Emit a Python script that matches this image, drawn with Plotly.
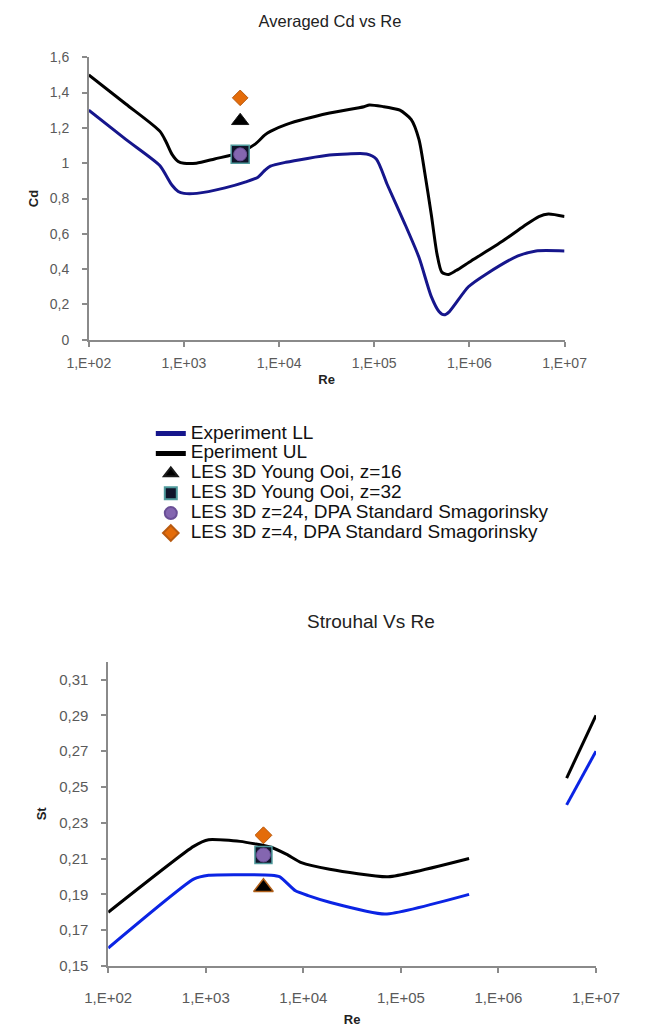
import plotly.graph_objects as go

# ---------------- Drag coefficient vs Reynolds number ----------------
re_ul = [100, 245, 560, 650, 750, 870, 1000, 1350, 2100, 3900, 5600, 7100,
         8100, 12000, 34000, 78000, 89000, 126000, 158000, 186000, 245000,
         295000, 339000, 398000, 457000, 513000, 603000, 724000, 1050000,
         2240000, 3720000, 5370000, 6760000, 10000000]
cd_ul = [1.50, 1.335, 1.18, 1.12, 1.05, 1.01, 1.00, 1.00, 1.024, 1.06, 1.108, 1.16,
         1.18, 1.22, 1.284, 1.32, 1.33, 1.32, 1.31, 1.30, 1.247,
         1.135, 0.949, 0.708, 0.485, 0.383, 0.37, 0.392, 0.448,
         0.559, 0.643, 0.698, 0.712, 0.698]

re_ll = [100, 245, 557, 650, 750, 870, 1000, 1365, 2700, 4470, 6000, 7100,
         8100, 11750, 33900, 52500, 83000, 105000, 138000, 204000, 295000,
         398000, 479000, 543000, 617000, 977000, 1510000, 3240000, 5010000,
         10000000]
cd_ll = [1.30, 1.135, 0.987, 0.93, 0.875, 0.84, 0.829, 0.829, 0.86, 0.894, 0.921, 0.96,
         0.983, 1.005, 1.046, 1.052, 1.052, 1.024, 0.875, 0.671, 0.467,
         0.244, 0.16, 0.141, 0.16, 0.30, 0.373, 0.475, 0.503,
         0.503]

# LES results at Re = 3900
re_les = [3900]
cd_les_yo16 = [1.24]
cd_les_yo32 = [1.05]
cd_les_dpa24 = [1.05]
cd_les_dpa4 = [1.37]

# ---------------- Strouhal number vs Reynolds number ----------------
re_st = [100, 750, 1070, 2240, 4680, 6760, 9550, 18600, 74000, 500000,
         None, 5000000, 10000000]
st_ul = [0.180, 0.2168, 0.2205, 0.2196, 0.2163, 0.2123, 0.2077, 0.204, 0.1998, 0.210,
         None, 0.255, 0.290]
re_st_ll = [100, 750, 1070, 4680, 5750, 8300, 11200, 18600, 69000, 500000,
            None, 5000000, 10000000]
st_ll = [0.160, 0.1985, 0.2007, 0.2007, 0.1998, 0.192, 0.1893, 0.1856, 0.179, 0.190,
         None, 0.240, 0.270]

st_les_yo16 = [0.194]
st_les_yo32 = [0.212]
st_les_dpa24 = [0.212]
st_les_dpa4 = [0.223]

series_names = ["Experiment LL", "Eperiment UL", "LES 3D Young Ooi, z=16",
                "LES 3D Young Ooi, z=32", "LES 3D z=24, DPA Standard Smagorinsky",
                "LES 3D z=4, DPA Standard Smagorinsky"]

x_tickvals = [1e2, 1e3, 1e4, 1e5, 1e6, 1e7]
x_ticktext = ["1,E+02", "1,E+03", "1,E+04", "1,E+05", "1,E+06", "1,E+07"]
cd_tickvals = [0, 0.2, 0.4, 0.6, 0.8, 1.0, 1.2, 1.4, 1.6]
cd_ticktext = ["0", "0,2", "0,4", "0,6", "0,8", "1", "1,2", "1,4", "1,6"]
st_tickvals = [0.15, 0.17, 0.19, 0.21, 0.23, 0.25, 0.27, 0.29, 0.31]
st_ticktext = ["0,15", "0,17", "0,19", "0,21", "0,23", "0,25", "0,27", "0,29", "0,31"]

FONT = "Liberation Sans, Arial, sans-serif"
NAVY = "#16168c"
BLUE = "#0b24e4"
PURPLE = "#8466b0"
ORANGE = "#e46c0a"


def legend_label(text):
    # large legend text on a compact row pitch
    return '<span style="font-size:19px">' + text + "</span>"


fig = go.Figure()

# --- top chart: Cd ---
fig.add_trace(go.Scatter(x=re_ll, y=cd_ll, name=legend_label(series_names[0]), mode="lines",
                         line=dict(color=NAVY, width=3, shape="spline", smoothing=0.7),
                         legendgroup="ll", xaxis="x", yaxis="y"))
fig.add_trace(go.Scatter(x=re_ul, y=cd_ul, name=legend_label(series_names[1]), mode="lines",
                         line=dict(color="#000000", width=3, shape="spline", smoothing=0.7),
                         legendgroup="ul", xaxis="x", yaxis="y"))
fig.add_trace(go.Scatter(x=re_les, y=cd_les_yo16, name=legend_label(series_names[2]),
                         mode="markers",
                         marker=dict(symbol="triangle-up", size=15, color="#000000",
                                     line=dict(color="#1a1a1a", width=1)),
                         legendgroup="yo16", xaxis="x", yaxis="y"))
fig.add_trace(go.Scatter(x=re_les, y=cd_les_yo32, name=legend_label(series_names[3]),
                         mode="markers",
                         marker=dict(symbol="square", size=18, color="#10142a",
                                     line=dict(color="#4f9a9c", width=1.5)),
                         legendgroup="yo32", xaxis="x", yaxis="y"))
fig.add_trace(go.Scatter(x=re_les, y=cd_les_dpa24, name=legend_label(series_names[4]),
                         mode="markers",
                         marker=dict(symbol="circle", size=13, color=PURPLE,
                                     line=dict(color="#6a4f96", width=1)),
                         legendgroup="dpa24", xaxis="x", yaxis="y"))
fig.add_trace(go.Scatter(x=re_les, y=cd_les_dpa4, name=legend_label(series_names[5]),
                         mode="markers",
                         marker=dict(symbol="diamond", size=12, color=ORANGE,
                                     line=dict(color="#b85a10", width=1)),
                         legendgroup="dpa4", xaxis="x", yaxis="y"))

# --- bottom chart: St ---
fig.add_trace(go.Scatter(x=re_st_ll, y=st_ll, name=series_names[0], mode="lines",
                         line=dict(color=BLUE, width=3, shape="spline", smoothing=0.5),
                         legendgroup="ll", showlegend=False, connectgaps=False,
                         xaxis="x2", yaxis="y2"))
fig.add_trace(go.Scatter(x=re_st, y=st_ul, name=series_names[1], mode="lines",
                         line=dict(color="#000000", width=3, shape="spline", smoothing=0.5),
                         legendgroup="ul", showlegend=False, connectgaps=False,
                         xaxis="x2", yaxis="y2"))
fig.add_trace(go.Scatter(x=re_les, y=st_les_yo16, name=series_names[2], mode="markers",
                         marker=dict(symbol="triangle-up", size=17, color="#000000",
                                     line=dict(color="#b0601a", width=1.5)),
                         legendgroup="yo16", showlegend=False, xaxis="x2", yaxis="y2"))
fig.add_trace(go.Scatter(x=re_les, y=st_les_yo32, name=series_names[3], mode="markers",
                         marker=dict(symbol="square", size=17, color="#10142a",
                                     line=dict(color="#4f9a9c", width=1.5)),
                         legendgroup="yo32", showlegend=False, xaxis="x2", yaxis="y2"))
fig.add_trace(go.Scatter(x=re_les, y=st_les_dpa24, name=series_names[4], mode="markers",
                         marker=dict(symbol="circle", size=14, color=PURPLE,
                                     line=dict(color="#6a4f96", width=1)),
                         legendgroup="dpa24", showlegend=False, xaxis="x2", yaxis="y2"))
fig.add_trace(go.Scatter(x=re_les, y=st_les_dpa4, name=series_names[5], mode="markers",
                         marker=dict(symbol="diamond", size=13, color=ORANGE,
                                     line=dict(color="#b85a10", width=1)),
                         legendgroup="dpa4", showlegend=False, xaxis="x2", yaxis="y2"))

axis_common = dict(showgrid=False, zeroline=False, showline=True, linecolor="#8a8a8a",
                   linewidth=1.5, ticks="outside", ticklen=5, tickcolor="#8a8a8a",
                   tickwidth=1.5, mirror=False)

fig.update_layout(
    width=645, height=1032,
    margin=dict(l=0, r=0, t=0, b=0),
    paper_bgcolor="white", plot_bgcolor="white",
    font=dict(family=FONT, color="#222222"),
    title=dict(text="Averaged Cd vs Re", x=330 / 645, xanchor="center",
               y=1 - 21 / 1032, yanchor="middle", font=dict(size=16.5, color="#222222")),
    xaxis=dict(axis_common, type="log", range=[2, 7], domain=[70 / 645, 584 / 645],
               anchor="y", tickvals=x_tickvals, ticktext=x_ticktext,
               tickfont=dict(size=14, color="#5a5a5a"), ticklabelstandoff=5,
               title=dict(text="<b>Re</b>", font=dict(size=13, color="#222222"), standoff=5)),
    yaxis=dict(axis_common, range=[0, 1.6], domain=[1 - 337 / 1032, 1 - 50 / 1032],
               anchor="x", tickvals=cd_tickvals, ticktext=cd_ticktext,
               tickfont=dict(size=14, color="#5a5a5a"), ticklabelstandoff=10,
               title=dict(text="<b>Cd</b>", font=dict(size=13, color="#222222"), standoff=8)),
    xaxis2=dict(axis_common, type="log", range=[2, 7], domain=[91 / 645, 618 / 645],
                anchor="y2", tickvals=x_tickvals, ticktext=x_ticktext,
                tickfont=dict(size=15, color="#5a5a5a"), ticklabelstandoff=12,
                title=dict(text="<b>Re</b>", font=dict(size=13, color="#222222"), standoff=10)),
    yaxis2=dict(axis_common, range=[0.15, 0.32], domain=[1 - 973 / 1032, 1 - 664 / 1032],
                anchor="x2", tickvals=st_tickvals, ticktext=st_ticktext,
                tickfont=dict(size=15, color="#5a5a5a"), ticklabelstandoff=10,
                title=dict(text="<b>St</b>", font=dict(size=13, color="#222222"), standoff=10)),
    legend=dict(x=137 / 645, xanchor="left", y=1 - 417 / 1032, yanchor="top",
                font=dict(size=13, color="#111111", family=FONT),
                bgcolor="rgba(0,0,0,0)", borderwidth=0, itemsizing="constant",
                traceorder="normal"),
    annotations=[dict(text="Strouhal Vs Re", xref="paper", yref="paper",
                      x=375 / 645, y=1 - 623 / 1032, xanchor="center", yanchor="middle",
                      showarrow=False, font=dict(size=19, color="#222222"))],
)

fig.write_html("out.html")
